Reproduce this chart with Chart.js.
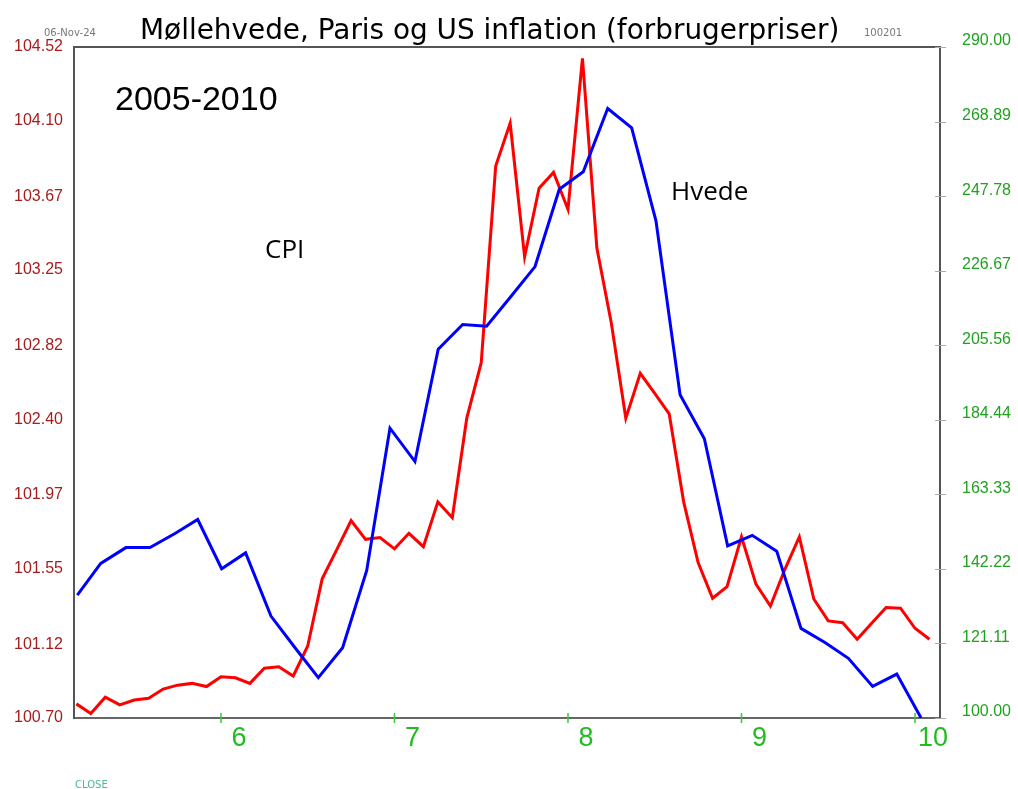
<!DOCTYPE html>
<html>
<head>
<meta charset="utf-8">
<script src="https://cdn.jsdelivr.net/npm/chart.js@4.4.1/dist/chart.umd.min.js"></script>
<style>
  html, body { margin: 0; padding: 0; background: #fff; }
  #wrap { width: 1018px; height: 789px; position: relative; }
</style>
</head>
<body>
<div id="wrap"><canvas id="chart"></canvas></div>
<script>
// CPI (blaa, venstre akse) - datoer som aar efter 2000
const cpiDates = [5.172, 5.307, 5.452, 5.591, 5.735, 5.866, 6.004, 6.142, 6.288, 6.427,
    6.561, 6.701, 6.840, 6.974, 7.118, 7.252, 7.393, 7.531, 7.671, 7.810,
    7.950, 8.088, 8.229, 8.367, 8.507, 8.646, 8.786, 8.920, 9.062, 9.203,
    9.343, 9.481, 9.616, 9.756, 9.895, 10.035];
const cpiValues = [101.40, 101.58, 101.67, 101.67, 101.75, 101.83, 101.55, 101.64, 101.28, 101.10,
    100.93, 101.10, 101.54, 102.35, 102.16, 102.80, 102.94, 102.93, 103.10, 103.27,
    103.71, 103.81, 104.17, 104.06, 103.53, 102.54, 102.29, 101.68, 101.74, 101.65,
    101.21, 101.13, 101.04, 100.88, 100.95, 100.70];

// Moellehvede Paris (roed, hoejre akse), maanedlig
const wheatMonths = [
    '2005-03', '2005-04', '2005-05', '2005-06', '2005-07', '2005-08', '2005-09', '2005-10', '2005-11', '2005-12',
    '2006-01', '2006-02', '2006-03', '2006-04', '2006-05', '2006-06', '2006-07', '2006-08', '2006-09', '2006-10', '2006-11', '2006-12',
    '2007-01', '2007-02', '2007-03', '2007-04', '2007-05', '2007-06', '2007-07', '2007-08', '2007-09', '2007-10', '2007-11', '2007-12',
    '2008-01', '2008-02', '2008-03', '2008-04', '2008-05', '2008-06', '2008-07', '2008-08', '2008-09', '2008-10', '2008-11', '2008-12',
    '2009-01', '2009-02', '2009-03', '2009-04', '2009-05', '2009-06', '2009-07', '2009-08', '2009-09', '2009-10', '2009-11', '2009-12',
    '2010-01', '2010-02'
];
const wheatValues = [
    104.0, 101.3, 105.9, 103.7, 105.1, 105.6, 108.2, 109.3, 109.8, 108.9,
    111.7, 111.4, 109.8, 114.1, 114.5, 111.9, 120.4, 139.4, 147.6, 155.9, 150.6, 151.1,
    147.9, 152.3, 148.5, 161.2, 156.7, 184.9, 200.6, 256.3, 268.4, 230.6, 250.0, 254.5,
    244.0, 286.8, 233.0, 211.8, 184.9, 197.6, 191.9, 186.1, 161.2, 144.0, 133.9, 137.2,
    151.3, 137.9, 131.7, 142.1, 151.3, 133.7, 127.5, 127.0, 122.3, 126.8, 131.3, 131.1,
    125.4, 122.3
];

// akser
const xTicks = [6, 7, 8, 9, 10];
const leftTicks = [100.70, 101.12, 101.55, 101.97, 102.40, 102.82, 103.25, 103.67, 104.10, 104.52];
const rightTicks = [100.00, 121.11, 142.22, 163.33, 184.44, 205.56, 226.67, 247.78, 268.89, 290.00];

function monthToYear(s) {
    return (Number(s.slice(0, 4)) - 2000) + (Number(s.slice(5, 7)) - 1) / 12;
}

const cpiPoints = cpiDates.map((d, i) => ({ x: d, y: cpiValues[i] }));
const wheatPoints = wheatMonths.map((m, i) => ({ x: monthToYear(m), y: wheatValues[i] }));

const textPlugin = {
    id: 'texts',
    afterDraw(chart) {
        const ctx = chart.ctx;
        const a = chart.chartArea;
        ctx.save();
        // ramme top
        ctx.strokeStyle = '#555';
        ctx.lineWidth = 2;
        ctx.beginPath();
        ctx.moveTo(a.left, a.top);
        ctx.lineTo(a.right, a.top);
        ctx.stroke();

        // hoejre akse tick streger
        const yr = chart.scales.yR;
        ctx.strokeStyle = '#aaa';
        ctx.lineWidth = 1;
        rightTicks.forEach(t => {
            const py = Math.round(yr.getPixelForValue(t)) + 0.5;
            ctx.beginPath();
            ctx.moveTo(a.right - 5, py);
            ctx.lineTo(a.right + 6, py);
            ctx.stroke();
        });

        // x tick streger (gaar op i plottet)
        const xs = chart.scales.x;
        ctx.strokeStyle = '#33cc33';
        ctx.lineWidth = 1.5;
        xTicks.forEach(t => {
            const px = xs.getPixelForValue(t);
            ctx.beginPath();
            ctx.moveTo(px, a.bottom - 5);
            ctx.lineTo(px, a.bottom + 5);
            ctx.stroke();
        });

        // titel
        const title = 'Møllehvede, Paris og US inflation (forbrugerpriser)';
        ctx.fillStyle = '#000';
        ctx.textBaseline = 'alphabetic';
        ctx.textAlign = 'left';
        ctx.font = '32px "DejaVu Sans"';
        const w = ctx.measureText(title).width;
        const size = 32 * 700 / w;
        ctx.font = size.toFixed(1) + 'px "DejaVu Sans"';
        ctx.fillText(title, 140, 39);

        ctx.font = '34px "Liberation Sans"';
        ctx.fillText('2005-2010', 115, 110);

        ctx.font = '26px "Open Sans"';
        ctx.fillText('CPI', 265, 258);
        ctx.fillText('Hvede', 671, 200);

        ctx.fillStyle = '#777';
        ctx.font = '10px "DejaVu Sans"';
        ctx.fillText('06-Nov-24', 44, 36);
        ctx.fillText('100201', 864, 36);

        ctx.fillStyle = '#4cba94';
        ctx.fillText('CLOSE', 75, 788);
        ctx.restore();
    }
};

const ctx = document.getElementById('chart').getContext('2d');
const myChart = new Chart(ctx, {
    type: 'line',
    data: {
        datasets: [{
            label: 'CPI',
            data: cpiPoints,
            yAxisID: 'yL',
            borderColor: '#0000ff',
            borderWidth: 3,
            pointRadius: 0,
            tension: 0
        }, {
            label: 'Hvede',
            data: wheatPoints,
            yAxisID: 'yR',
            borderColor: '#ff0000',
            borderWidth: 3,
            pointRadius: 0,
            tension: 0
        }]
    },
    options: {
        responsive: true,
        maintainAspectRatio: false,
        animation: false,
        layout: { padding: { top: 47, left: 0, right: 0, bottom: 0 } },
        plugins: {
            legend: { display: false },
            title: { display: false },
            tooltip: { enabled: false }
        },
        scales: {
            x: {
                type: 'linear',
                min: 5.153,
                max: 10.144,
                afterBuildTicks: s => { s.ticks = xTicks.map(v => ({ value: v })); },
                afterFit: s => { s.height = 71; },
                grid: { display: false, drawTicks: false },
                border: { display: true, color: '#666', width: 2 },
                ticks: {
                    color: '#22bb22',
                    font: { family: 'Liberation Sans', size: 27 },
                    padding: 4,
                    labelOffset: 18,
                    maxRotation: 0,
                    callback: v => String(v)
                }
            },
            yL: {
                type: 'linear',
                position: 'left',
                min: 100.70,
                max: 104.52,
                afterBuildTicks: s => { s.ticks = leftTicks.map(v => ({ value: v })); },
                afterFit: s => { s.width = 74; },
                grid: { display: false, drawTicks: false },
                border: { display: true, color: '#555', width: 2 },
                ticks: {
                    color: '#a51d1d',
                    font: { family: 'Liberation Sans', size: 16 },
                    padding: 11,
                    callback: v => v.toFixed(2)
                }
            },
            yR: {
                type: 'linear',
                position: 'right',
                min: 100,
                max: 290,
                afterBuildTicks: s => { s.ticks = rightTicks.map(v => ({ value: v })); },
                afterFit: s => { s.width = 78; },
                grid: { display: false, drawTicks: false },
                border: { display: true, color: '#555', width: 2 },
                ticks: {
                    color: '#1fa31f',
                    font: { family: 'Liberation Sans', size: 16 },
                    padding: 22,
                    labelOffset: -6,
                    callback: v => v.toFixed(2)
                }
            }
        }
    },
    plugins: [textPlugin]
});
</script>
</body>
</html>
